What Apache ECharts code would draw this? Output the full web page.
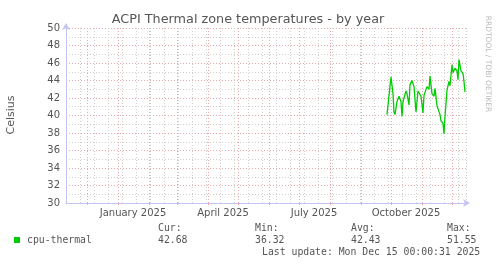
<!DOCTYPE html>
<html>
<head>
<meta charset="utf-8">
<script src="https://cdn.jsdelivr.net/npm/echarts@6/dist/echarts.min.js"></script>
<style>html,body{margin:0;padding:0;background:#fff}#c{width:497px;height:264px}</style>
</head>
<body>
<div id="c"></div>
<script>
// x values are days since 2024-11-10 (400-day window ending 2025-12-15)
const dayOffsets = [321,325,327,328,329,331,333,335,336,337,340,341,343,344,346,348,350,352,355,357,358,361,363,364,366,368,369,371,372,374,375,377,378,379,381,383,384,386,387,389,391,392,393,395,397,398,399];
const cpuThermal = [40.1,44.4,42.5,40.4,40.1,41.6,42.2,41.6,39.9,41.6,42.8,42.5,41.2,43.5,44.0,43.3,40.4,42.8,42.2,40.3,42.3,43.3,43.0,44.5,42.5,42.2,43.1,41.1,41.3,40.1,39.4,39.1,37.9,39.9,42.9,43.9,43.4,45.8,44.9,45.4,45.1,44.1,46.4,45.1,44.8,43.9,42.7];
const monthStarts = [21,52,83,111,142,172,203,233,264,295,325,356,386];
const labelDays = [67,157,248,340];
const labelTexts = ['January 2025','April 2025','July 2025','October 2025'];
const yTicks = {min:30, max:50, step:2};
const legendStats = {cur:'42.68', min:'36.32', avg:'42.43', max:'51.55'};
const titleText = 'ACPI Thermal zone temperatures - by year';
const lastUpdate = 'Last update: Mon Dec 15 00:00:31 2025';

const chart = echarts.init(document.getElementById('c'), null, {renderer:'canvas'});
const axisCol = '#c4c4f0';
const majorCol = '#eaa8a8';
const minorCol = '#cfcfcf';
const txt = '#555';
const mono = 'DejaVu Sans Mono';

const data = dayOffsets.map((d,i)=>[d, cpuThermal[i]]);

chart.setOption({
  animation:false,
  backgroundColor:'#fff',
  grid:{left:66, top:28, width:400, height:175, containLabel:false},
  xAxis:[
    {type:'value', min:0, max:400, interval:14, position:'bottom',
     axisLine:{show:true, lineStyle:{color:axisCol, width:1}, symbol:['none','arrow'], symbolSize:[6,7], symbolOffset:[0,4]},
     axisTick:{show:false}, axisLabel:{show:false},
     splitLine:{show:true, lineStyle:{color:minorCol, width:1, type:[1,2]}}},
    {type:'value', min:0, max:400, position:'bottom',
     axisLine:{show:false},
     axisTick:{show:true, customValues:monthStarts, length:2, lineStyle:{color:majorCol}},
     axisLabel:{show:true, customValues:labelDays, color:txt, fontFamily:'DejaVu Sans', fontSize:10, margin:5,
       formatter:(v)=>{const i=labelDays.indexOf(Math.round(v)); return i>=0?labelTexts[i]:'';}},
     splitLine:{show:true, lineStyle:{color:majorCol, width:1, type:[1,2]}}}
  ],
  yAxis:{type:'value', min:yTicks.min, max:yTicks.max, interval:yTicks.step,
    axisLine:{show:true, lineStyle:{color:axisCol, width:1}, symbol:['none','arrow'], symbolSize:[6,7], symbolOffset:[0,5]},
    axisTick:{show:false},
    axisLabel:{color:txt, fontFamily:'DejaVu Sans', fontSize:10, margin:6},
    minorTick:{show:false, splitNumber:2},
    minorSplitLine:{show:true, lineStyle:{color:minorCol, width:1, type:[1,2]}},
    splitLine:{show:true, lineStyle:{color:majorCol, width:1, type:[1,2]}}},
  series:[{type:'line', name:'cpu-thermal', data:data, xAxisIndex:0, showSymbol:false, symbol:'none',
    lineStyle:{color:'#00cc00', width:1.3}, itemStyle:{color:'#00cc00'}, z:5}],
  graphic:[
    {type:'text', x:248, y:20, style:{text:titleText, fill:txt, font:'12.8px "DejaVu Sans"', textAlign:'center', textVerticalAlign:'middle'}},
    {type:'text', x:488, y:64, rotation:-Math.PI/2, style:{text:'RRDTOOL / TOBI OETIKER', fill:'#bbb', font:'7.5px "DejaVu Sans"', textAlign:'center', textVerticalAlign:'middle'}},
    {type:'text', x:11, y:115, rotation:Math.PI/2, style:{text:'Celsius', fill:txt, font:'11px "DejaVu Sans"', textAlign:'center', textVerticalAlign:'middle'}},
    {type:'rect', shape:{x:14, y:237, width:6, height:6}, style:{fill:'#00cc00'}},
    {type:'text', x:27, y:240, style:{text:'cpu-thermal', fill:txt, font:'9.8px "'+mono+'"', textVerticalAlign:'middle'}},
    {type:'text', x:158, y:228, style:{text:'Cur:', fill:txt, font:'9.8px "'+mono+'"', textVerticalAlign:'middle'}},
    {type:'text', x:158, y:240, style:{text:legendStats.cur, fill:txt, font:'9.8px "'+mono+'"', textVerticalAlign:'middle'}},
    {type:'text', x:255, y:228, style:{text:'Min:', fill:txt, font:'9.8px "'+mono+'"', textVerticalAlign:'middle'}},
    {type:'text', x:255, y:240, style:{text:legendStats.min, fill:txt, font:'9.8px "'+mono+'"', textVerticalAlign:'middle'}},
    {type:'text', x:351, y:228, style:{text:'Avg:', fill:txt, font:'9.8px "'+mono+'"', textVerticalAlign:'middle'}},
    {type:'text', x:351, y:240, style:{text:legendStats.avg, fill:txt, font:'9.8px "'+mono+'"', textVerticalAlign:'middle'}},
    {type:'text', x:447, y:228, style:{text:'Max:', fill:txt, font:'9.8px "'+mono+'"', textVerticalAlign:'middle'}},
    {type:'text', x:447, y:240, style:{text:legendStats.max, fill:txt, font:'9.8px "'+mono+'"', textVerticalAlign:'middle'}},
    {type:'text', x:262, y:252, style:{text:lastUpdate, fill:txt, font:'9.8px "'+mono+'"', textVerticalAlign:'middle'}}
  ]
});
</script>
</body>
</html>
